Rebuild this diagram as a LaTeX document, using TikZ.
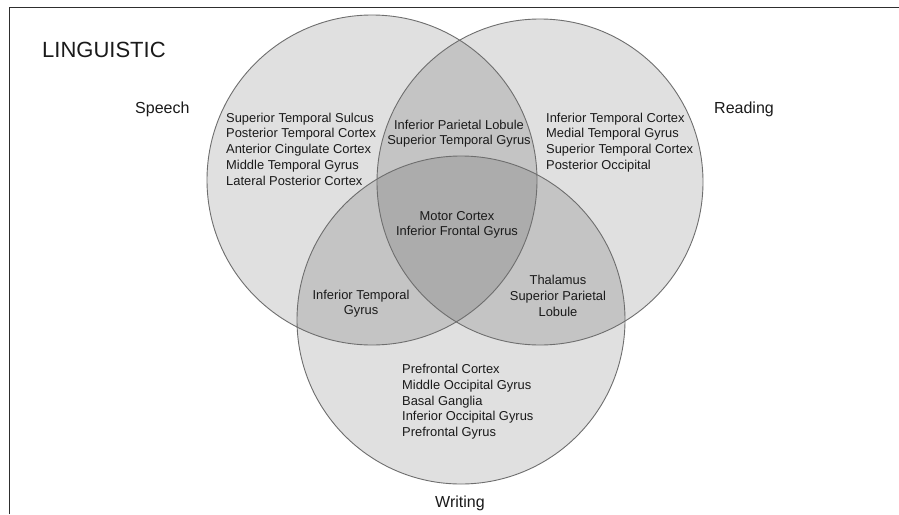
\documentclass[tikz,border=0pt]{standalone}
\usepackage{fontspec}
\setmainfont{Liberation Sans}
\definecolor{circline}{HTML}{6E6E6E}
\definecolor{frameline}{HTML}{2E2E2E}
\definecolor{txtcol}{HTML}{1A1A1A}
\begin{document}
\begin{tikzpicture}[x=1pt,y=-1pt,
  txt/.style={inner sep=0pt, text=txtcol, font=\fontsize{12.9}{15.75}\selectfont},
  lbl/.style={inner sep=0pt, text=txtcol, font=\fontsize{16}{19}\selectfont},
  setfill/.style={fill=black, fill opacity=0.12},
  setline/.style={draw=circline, line width=0.9pt}]
\useasboundingbox (0,0) rectangle (899,514);
\fill[white] (0,0) rectangle (899,514);
% frame
\draw[frameline, line width=1.4pt] (9.5,514) -- (9.5,7.3) -- (899,7.3);
% circle centres
\coordinate (cs) at (372,180);
\coordinate (cr) at (540,182);
\coordinate (cw) at (461,320);
% fills
\fill[setfill] (cs) circle[radius=165pt];
\fill[setfill] (cr) circle[radius=163pt];
\fill[setfill] (cw) circle[radius=164pt];
% outlines
\draw[setline] (cs) circle[radius=165pt];
\draw[setline] (cr) circle[radius=163pt];
\draw[setline] (cw) circle[radius=164pt];
% title and set labels
\node[inner sep=0pt, text=txtcol, font=\fontsize{22}{26}\selectfont, anchor=base west] (title) at (42,57.5) {LINGUISTIC};
\node[lbl, anchor=base west] (speech) at (135,113.5) {Speech};
\node[lbl, anchor=base west] (reading) at (714,113.5) {Reading};
\node[lbl, anchor=base west] (writing) at (435,507) {Writing};
% region texts
\node[txt, anchor=north west, align=left] (sonly) at (226,112.5) {Superior Temporal Sulcus\\Posterior Temporal Cortex\\Anterior Cingulate Cortex\\Middle Temporal Gyrus\\Lateral Posterior Cortex};
\node[txt, anchor=north, align=center] (sr) at (459,119.5) {Inferior Parietal Lobule\\Superior Temporal Gyrus};
\node[txt, anchor=north west, align=left] (ronly) at (546,112.5) {Inferior Temporal Cortex\\Medial Temporal Gyrus\\Superior Temporal Cortex\\Posterior Occipital};
\node[txt, anchor=north, align=center] (srw) at (457,211) {Motor Cortex\\Inferior Frontal Gyrus};
\node[txt, anchor=north, align=center] (sw) at (361,289.5) {Inferior Temporal\\Gyrus};
\node[txt, anchor=north, align=center] (rw) at (558,275) {Thalamus\\Superior Parietal\\Lobule};
\node[txt, anchor=north west, align=left] (wonly) at (402,364) {Prefrontal Cortex\\Middle Occipital Gyrus\\Basal Ganglia\\Inferior Occipital Gyrus\\Prefrontal Gyrus};
\end{tikzpicture}
\end{document}
